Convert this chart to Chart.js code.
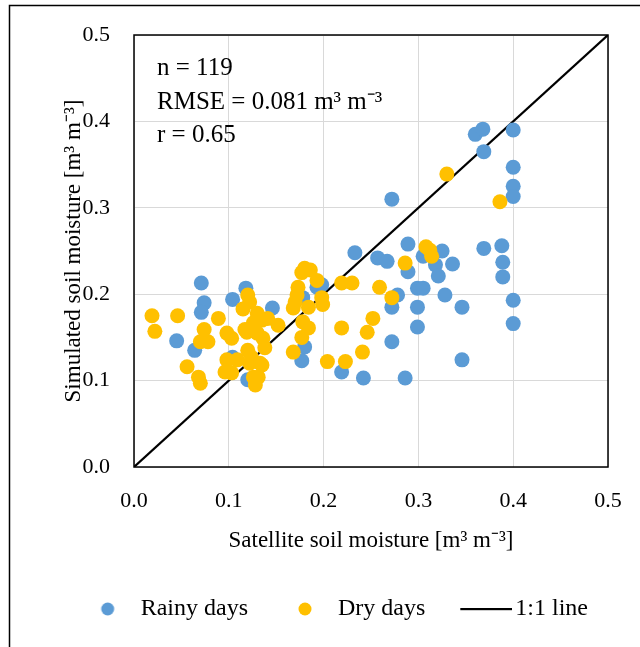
<!DOCTYPE html>
<html>
<head>
<meta charset="utf-8">
<script src="https://cdn.jsdelivr.net/npm/chart.js@4"></script>
<style>
  html, body { margin: 0; padding: 0; background: #fff; }
</style>
</head>
<body>
<canvas id="myChart" width="640" height="647"></canvas>
<script>
// satellite (x) vs simulated (y) soil moisture, m3 m-3
const rainyX = [0.045, 0.064, 0.071, 0.074, 0.071, 0.104, 0.118, 0.104, 0.120, 0.146,
  0.193, 0.198, 0.178, 0.180, 0.177, 0.219, 0.242, 0.272, 0.233, 0.257,
  0.267, 0.289, 0.289, 0.305, 0.325, 0.318, 0.321, 0.336, 0.299, 0.305,
  0.299, 0.299, 0.278, 0.272, 0.272, 0.286, 0.328, 0.346, 0.346, 0.360,
  0.368, 0.369, 0.400, 0.400, 0.400, 0.400, 0.369, 0.388, 0.389, 0.389,
  0.400, 0.400];
const rainyY = [0.146, 0.135, 0.213, 0.190, 0.179, 0.194, 0.207, 0.127, 0.101, 0.184,
  0.208, 0.211, 0.196, 0.139, 0.123, 0.110, 0.103, 0.310, 0.248, 0.242,
  0.238, 0.258, 0.226, 0.244, 0.250, 0.234, 0.221, 0.235, 0.207, 0.207,
  0.185, 0.162, 0.199, 0.185, 0.145, 0.103, 0.199, 0.185, 0.124, 0.385,
  0.391, 0.365, 0.390, 0.347, 0.325, 0.313, 0.253, 0.256, 0.237, 0.220,
  0.193, 0.166];

const dryX = [0.019, 0.022, 0.046, 0.056, 0.068, 0.070, 0.074, 0.070, 0.078, 0.089,
  0.098, 0.103, 0.098, 0.109, 0.096, 0.103, 0.115, 0.120, 0.122, 0.117,
  0.120, 0.124, 0.126, 0.128, 0.130, 0.135, 0.141, 0.152, 0.126, 0.119,
  0.130, 0.136, 0.138, 0.133, 0.122, 0.131, 0.135, 0.173, 0.172, 0.170,
  0.168, 0.180, 0.186, 0.177, 0.193, 0.184, 0.198, 0.199, 0.178, 0.184,
  0.177, 0.168, 0.204, 0.219, 0.230, 0.219, 0.223, 0.241, 0.246, 0.252,
  0.259, 0.272, 0.286, 0.308, 0.314, 0.312, 0.330, 0.386];
const dryY = [0.175, 0.157, 0.175, 0.116, 0.104, 0.097, 0.159, 0.145, 0.145, 0.172,
  0.155, 0.149, 0.124, 0.124, 0.110, 0.109, 0.183, 0.199, 0.191, 0.159,
  0.135, 0.127, 0.104, 0.095, 0.178, 0.170, 0.172, 0.164, 0.167, 0.156,
  0.155, 0.149, 0.138, 0.120, 0.120, 0.104, 0.118, 0.208, 0.199, 0.191,
  0.184, 0.230, 0.228, 0.225, 0.216, 0.185, 0.196, 0.188, 0.168, 0.161,
  0.150, 0.133, 0.122, 0.213, 0.213, 0.161, 0.122, 0.133, 0.156, 0.172,
  0.208, 0.196, 0.236, 0.255, 0.244, 0.251, 0.339, 0.307];

const lineX = [0, 0.5];
const lineY = [0, 0.5];

const statLines = ['n = 119', 'RMSE = 0.081 m\u00B3 m\u207B\u00B3', 'r = 0.65'];

function toPoints(xs, ys) {
  return xs.map((x, i) => ({ x: x, y: ys[i] }));
}

// legend symbols: transparent strips, symbol sits just left of the label
const ICON_W = 78;
function legendIcon(kind, color) {
  const c = document.createElement('canvas');
  if (kind === 'line') {
    c.width = 96; c.height = 4;
    const h = c.getContext('2d');
    h.fillStyle = color;
    h.fillRect(44, 1, 52, 2.2);
  } else {
    c.width = ICON_W; c.height = 14;
    const h = c.getContext('2d');
    h.fillStyle = color;
    h.beginPath();
    h.arc(57, 7, 6.5, 0, Math.PI * 2);
    h.fill();
  }
  return c;
}

const serif = '"Liberation Serif", "Times New Roman", serif';
Chart.defaults.font.family = serif;
Chart.defaults.color = '#000';

// outer frame, plot box and the stats text
const extras = {
  id: 'extras',
  beforeDraw(chart) {
    const c = chart.ctx;
    c.save();
    c.fillStyle = '#fff';
    c.fillRect(0, 0, chart.width, chart.height);
    c.strokeStyle = '#000';
    c.lineWidth = 1.5;
    c.beginPath();
    c.moveTo(9.5, 647);
    c.lineTo(9.5, 5.5);
    c.lineTo(640, 5.5);
    c.stroke();
    c.restore();
  },
  beforeDatasetsDraw(chart) {
    const a = chart.chartArea;
    const c = chart.ctx;
    c.save();
    c.strokeStyle = '#000';
    c.lineWidth = 1.5;
    c.strokeRect(a.left, a.top, a.right - a.left, a.bottom - a.top);
    c.restore();
  },
  afterDatasetsDraw(chart) {
    const c = chart.ctx;
    c.save();
    c.fillStyle = '#000';
    c.font = '25px ' + serif;
    c.textBaseline = 'alphabetic';
    statLines.forEach((t, i) => c.fillText(t, 157, 75 + i * 33.5));
    c.restore();
  }
};

let ctx = document.getElementById('myChart').getContext('2d');
let myChart = new Chart(ctx, {
  type: 'scatter',
  data: {
    datasets: [{
      label: 'Rainy days',
      data: toPoints(rainyX, rainyY),
      backgroundColor: '#5B9BD5',
      borderWidth: 0,
      pointRadius: 7.5,
      pointHoverRadius: 7.5,
      order: 1
    }, {
      label: 'Dry days',
      data: toPoints(dryX, dryY),
      backgroundColor: '#FFC000',
      borderWidth: 0,
      pointRadius: 7.5,
      pointHoverRadius: 7.5,
      order: 0
    }, {
      label: '1:1 line',
      data: toPoints(lineX, lineY),
      showLine: true,
      borderColor: '#000',
      backgroundColor: '#000',
      borderWidth: 2.2,
      pointRadius: 0,
      order: 2
    }]
  },
  options: {
    responsive: false,
    animation: false,
    layout: { padding: { left: 30.6, right: 32, top: 35, bottom: 16 } },
    plugins: {
      tooltip: { enabled: false },
      legend: {
        position: 'bottom',
        labels: {
          usePointStyle: true,
          pointStyleWidth: ICON_W,
          boxHeight: 9,
          padding: 0,
          font: { size: 24 },
          color: '#000',
          sort: (a, b) => a.datasetIndex - b.datasetIndex,
          generateLabels(chart) {
            const items = Chart.defaults.plugins.legend.labels.generateLabels(chart);
            items.forEach((it) => {
              const ds = chart.data.datasets[it.datasetIndex];
              it.pointStyle = ds.showLine ? legendIcon('line', '#000') : legendIcon('circle', ds.backgroundColor);
            });
            return items;
          }
        }
      }
    },
    scales: {
      x: {
        type: 'linear',
        min: 0,
        max: 0.5,
        afterFit: (s) => { s.height = 130; },
        ticks: { stepSize: 0.1, padding: 18, font: { size: 22, lineHeight: 1.5 }, callback: (v) => Number(v).toFixed(1) },
        grid: { color: '#d9d9d9', lineWidth: 1, drawTicks: false },
        border: { display: false },
        title: { display: true, text: 'Satellite soil moisture [m\u00B3 m\u207B\u00B3]', font: { size: 23 }, padding: { top: 0, bottom: 42 } }
      },
      y: {
        type: 'linear',
        min: 0,
        max: 0.5,
        afterFit: (s) => { s.width = 134 - 30.6; },
        ticks: { stepSize: 0.1, padding: 24, font: { size: 22, lineHeight: 1.0 }, callback: (v) => Number(v).toFixed(1) },
        grid: { color: '#d9d9d9', lineWidth: 1, drawTicks: false },
        border: { display: false },
        title: { display: true, text: 'Simulated soil moisture [m\u00B3 m\u207B\u00B3]', font: { size: 23 }, padding: { top: 29.2, bottom: 0 } }
      }
    }
  },
  plugins: [extras]
});
</script>
</body>
</html>
